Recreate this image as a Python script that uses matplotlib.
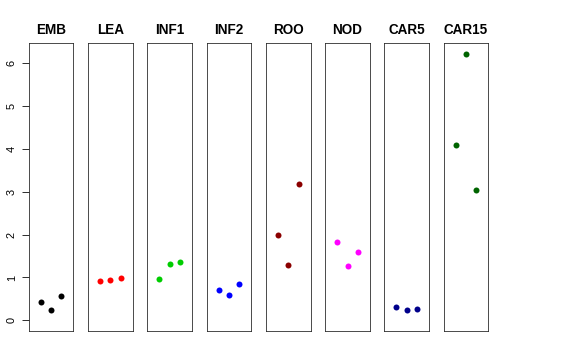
import matplotlib
matplotlib.use("Agg")
import matplotlib.pyplot as plt

plt.rcParams["font.family"] = ["Liberation Sans", "DejaVu Sans"]

stages = ["EMB", "LEA", "INF1", "INF2", "ROO", "NOD", "CAR5", "CAR15"]
colors = ["black", "red", "#00CD00", "blue", "darkred", "magenta", "darkblue", "darkgreen"]

emb   = [0.42, 0.25, 0.575]
lea   = [0.925, 0.93, 0.98]
inf1  = [0.957, 1.31, 1.37]
inf2  = [0.71, 0.59, 0.84]
roo   = [1.98, 1.29, 3.175]
nod   = [1.835, 1.26, 1.59]
car5  = [0.30, 0.23, 0.26]
car15 = [4.08, 6.22, 3.04]
values = [emb, lea, inf1, inf2, roo, nod, car5, car15]

reps = [1, 2, 3]
yticks = [0, 1, 2, 3, 4, 5, 6]

W, H = 576, 360
fig = plt.figure(figsize=(W / 72, H / 72), dpi=72)

left0, pitch, pw = 28.7, 59.3, 44.6
top, bottom = 43, 331
ylim = (-0.249, 6.469)

for i, (name, col, vals) in enumerate(zip(stages, colors, values)):
    x0 = left0 + i * pitch
    ax = fig.add_axes([x0 / W, 1 - bottom / H, pw / W, (bottom - top) / H])
    ax.plot(reps, vals, "o", color=col, markersize=6, markeredgewidth=0)
    ax.set_xlim(-0.16, 4.16)
    ax.set_ylim(*ylim)
    ax.set_xticks([])
    for s in ax.spines.values():
        s.set_linewidth(0.8)
        s.set_color("#222222")
    ax.set_title(name, fontsize=13.5, fontweight="bold", pad=9)
    if i == 0:
        ax.set_yticks(yticks)
        ax.set_yticklabels([str(t) for t in yticks], rotation=90, va="center", fontsize=11)
        ax.tick_params(axis="y", length=7, width=0.8, pad=5)
    else:
        ax.set_yticks([])

fig.savefig("out.png", dpi=72)
